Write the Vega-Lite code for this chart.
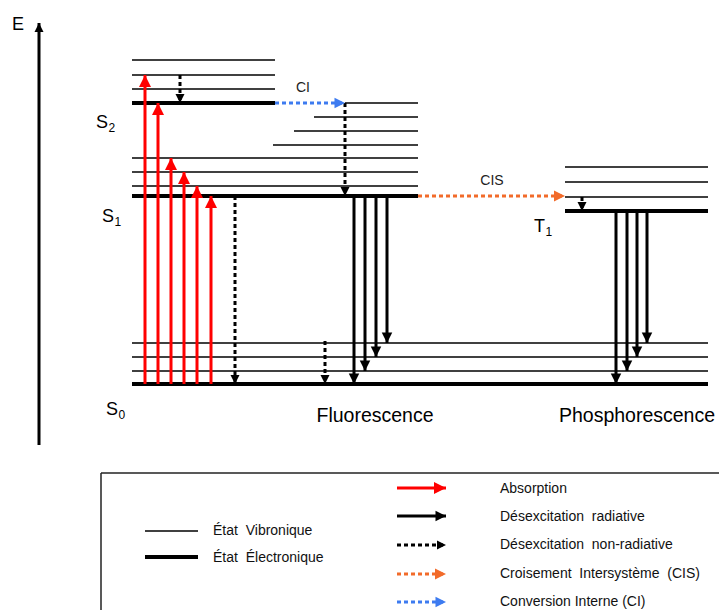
{
  "$schema": "https://vega.github.io/schema/vega-lite/v6.json",
  "width": 720,
  "height": 611,
  "autosize": {"type": "fit", "contains": "padding"},
  "padding": 0,
  "background": "white",
  "view": {"stroke": null},
  "datasets": {
    "cadre": [
      {"x1": 101, "x2": 719, "y1": 473, "y2": 473},
      {"x1": 101, "x2": 101, "y1": 473, "y2": 610}
    ],
    "niveaux": [
      {"groupe": "S2", "etat": "vibronique", "x1": 132, "x2": 275, "y": 60},
      {"groupe": "S2", "etat": "vibronique", "x1": 132, "x2": 275, "y": 75},
      {"groupe": "S2", "etat": "vibronique", "x1": 132, "x2": 275, "y": 89},
      {"groupe": "S2", "etat": "électronique", "x1": 132, "x2": 275, "y": 103},
      {"groupe": "S1", "etat": "vibronique", "x1": 345, "x2": 418, "y": 103},
      {"groupe": "S1", "etat": "vibronique", "x1": 314, "x2": 418, "y": 117},
      {"groupe": "S1", "etat": "vibronique", "x1": 294, "x2": 418, "y": 131},
      {"groupe": "S1", "etat": "vibronique", "x1": 273, "x2": 418, "y": 145},
      {"groupe": "S1", "etat": "vibronique", "x1": 132, "x2": 418, "y": 158},
      {"groupe": "S1", "etat": "vibronique", "x1": 132, "x2": 418, "y": 172},
      {"groupe": "S1", "etat": "vibronique", "x1": 132, "x2": 418, "y": 186},
      {"groupe": "S1", "etat": "électronique", "x1": 132, "x2": 418, "y": 196},
      {"groupe": "S0", "etat": "vibronique", "x1": 132, "x2": 708, "y": 343},
      {"groupe": "S0", "etat": "vibronique", "x1": 132, "x2": 708, "y": 357},
      {"groupe": "S0", "etat": "vibronique", "x1": 132, "x2": 708, "y": 371},
      {"groupe": "S0", "etat": "électronique", "x1": 132, "x2": 708, "y": 384},
      {"groupe": "T1", "etat": "vibronique", "x1": 565, "x2": 708, "y": 167},
      {"groupe": "T1", "etat": "vibronique", "x1": 565, "x2": 708, "y": 182},
      {"groupe": "T1", "etat": "vibronique", "x1": 565, "x2": 708, "y": 197},
      {"groupe": "T1", "etat": "électronique", "x1": 565, "x2": 708, "y": 211},
      {"groupe": "légende", "etat": "vibronique", "x1": 145, "x2": 198, "y": 531},
      {"groupe": "légende", "etat": "électronique", "x1": 145, "x2": 198, "y": 557}
    ],
    "fleches": [
      {"type": "axe", "dir": "haut", "x1": 39, "y1": 445, "x2": 39, "y2": 23},
      {"type": "absorption", "dir": "haut", "x1": 145, "y1": 384, "x2": 145, "y2": 75},
      {"type": "absorption", "dir": "haut", "x1": 158, "y1": 384, "x2": 158, "y2": 103},
      {"type": "absorption", "dir": "haut", "x1": 171, "y1": 384, "x2": 171, "y2": 158},
      {"type": "absorption", "dir": "haut", "x1": 184, "y1": 384, "x2": 184, "y2": 172},
      {"type": "absorption", "dir": "haut", "x1": 197, "y1": 384, "x2": 197, "y2": 186},
      {"type": "absorption", "dir": "haut", "x1": 211, "y1": 384, "x2": 211, "y2": 196},
      {"type": "non-radiative", "dir": "bas", "x1": 180, "y1": 75, "x2": 180, "y2": 103},
      {"type": "non-radiative", "dir": "bas", "x1": 345, "y1": 103, "x2": 345, "y2": 196},
      {"type": "non-radiative", "dir": "bas", "x1": 235, "y1": 196, "x2": 235, "y2": 384},
      {"type": "non-radiative", "dir": "bas", "x1": 325, "y1": 341, "x2": 325, "y2": 384},
      {"type": "non-radiative", "dir": "bas", "x1": 582, "y1": 197, "x2": 582, "y2": 211},
      {"type": "ci", "dir": "droite", "x1": 275, "y1": 103, "x2": 345, "y2": 103},
      {"type": "cis", "dir": "droite", "x1": 418, "y1": 196, "x2": 565, "y2": 196},
      {"type": "radiative", "dir": "bas", "x1": 354, "y1": 196, "x2": 354, "y2": 384},
      {"type": "radiative", "dir": "bas", "x1": 365, "y1": 196, "x2": 365, "y2": 371},
      {"type": "radiative", "dir": "bas", "x1": 376, "y1": 196, "x2": 376, "y2": 357},
      {"type": "radiative", "dir": "bas", "x1": 387, "y1": 196, "x2": 387, "y2": 343},
      {"type": "radiative", "dir": "bas", "x1": 616, "y1": 211, "x2": 616, "y2": 384},
      {"type": "radiative", "dir": "bas", "x1": 627, "y1": 211, "x2": 627, "y2": 371},
      {"type": "radiative", "dir": "bas", "x1": 637, "y1": 211, "x2": 637, "y2": 357},
      {"type": "radiative", "dir": "bas", "x1": 647, "y1": 211, "x2": 647, "y2": 343},
      {"type": "absorption", "dir": "droite", "x1": 397, "y1": 488, "x2": 446, "y2": 488},
      {"type": "radiative", "dir": "droite", "x1": 397, "y1": 516, "x2": 446, "y2": 516},
      {"type": "non-radiative", "dir": "droite", "x1": 397, "y1": 545, "x2": 446, "y2": 545},
      {"type": "cis", "dir": "droite", "x1": 397, "y1": 574, "x2": 446, "y2": 574},
      {"type": "ci", "dir": "droite", "x1": 397, "y1": 602, "x2": 446, "y2": 602}
    ],
    "etats": [
      {"lettre": "E", "indice": "", "x": 24, "y": 30},
      {"lettre": "S", "indice": "2", "x": 108, "y": 128},
      {"lettre": "S", "indice": "1", "x": 114, "y": 222},
      {"lettre": "S", "indice": "0", "x": 118, "y": 415},
      {"lettre": "T", "indice": "1", "x": 545, "y": 232}
    ],
    "processus": [
      {"label": "Fluorescence", "x": 375, "y": 422},
      {"label": "Phosphorescence", "x": 637, "y": 422}
    ],
    "transitions": [
      {"label": "CI", "x": 303, "y": 88},
      {"label": "CIS", "x": 492, "y": 181}
    ],
    "legende": [
      {"label": "État\u00a0 Vibronique", "x": 213, "y": 531},
      {"label": "État\u00a0 Électronique", "x": 213, "y": 558},
      {"label": "Absorption", "x": 500, "y": 489},
      {"label": "Désexcitation\u00a0 radiative", "x": 500, "y": 517},
      {"label": "Désexcitation\u00a0 non-radiative", "x": 500, "y": 545},
      {"label": "Croisement\u00a0 Intersystème\u00a0 (CIS)", "x": 500, "y": 574},
      {"label": "Conversion Interne (CI)", "x": 500, "y": 602}
    ]
  },
  "layer": [
    {
      "data": {"name": "cadre"},
      "mark": {"type": "rule", "color": "#222222", "strokeWidth": 1.5},
      "encoding": {
        "x": {"field": "x1", "type": "quantitative", "scale": {"domain": [0, 720], "nice": false, "zero": false}, "axis": null},
        "x2": {"field": "x2"},
        "y": {"field": "y1", "type": "quantitative", "scale": {"domain": [0, 611], "reverse": true, "nice": false, "zero": false}, "axis": null},
        "y2": {"field": "y2"}
      }
    },
    {
      "data": {"name": "niveaux"},
      "mark": {"type": "rule", "color": "black"},
      "encoding": {
        "x": {"field": "x1", "type": "quantitative", "scale": {"domain": [0, 720], "nice": false, "zero": false}, "axis": null},
        "x2": {"field": "x2"},
        "y": {"field": "y", "type": "quantitative", "scale": {"domain": [0, 611], "reverse": true, "nice": false, "zero": false}, "axis": null},
        "strokeWidth": {"field": "etat", "type": "nominal", "scale": {"type": "ordinal", "domain": ["vibronique", "électronique"], "range": [1.6, 3.8]}, "legend": null}
      }
    },
    {
      "data": {"name": "fleches"},
      "mark": {"type": "rule", "strokeWidth": 3},
      "encoding": {
        "x": {"field": "x1", "type": "quantitative", "scale": {"domain": [0, 720], "nice": false, "zero": false}, "axis": null},
        "x2": {"field": "x2"},
        "y": {"field": "y1", "type": "quantitative", "scale": {"domain": [0, 611], "reverse": true, "nice": false, "zero": false}, "axis": null},
        "y2": {"field": "y2"},
        "color": {"field": "type", "type": "nominal", "scale": {"domain": ["absorption", "radiative", "non-radiative", "cis", "ci", "axe"], "range": ["#FF0000", "#000000", "#000000", "#F26B2A", "#3D7BF0", "#000000"]}, "legend": null},
        "strokeDash": {"field": "type", "type": "nominal", "scale": {"domain": ["absorption", "radiative", "non-radiative", "cis", "ci", "axe"], "range": [[1, 0], [1, 0], [4, 3], [4, 3], [4, 3], [1, 0]]}, "legend": null}
      }
    },
    {
      "data": {"name": "fleches"},
      "mark": {"type": "point", "filled": true, "opacity": 1, "strokeWidth": 0},
      "encoding": {
        "x": {"field": "x2", "type": "quantitative", "scale": {"domain": [0, 720], "nice": false, "zero": false}, "axis": null},
        "y": {"field": "y2", "type": "quantitative", "scale": {"domain": [0, 611], "reverse": true, "nice": false, "zero": false}, "axis": null},
        "shape": {"field": "dir", "type": "nominal", "scale": {"domain": ["haut", "droite", "bas"], "range": ["M0,0L-1,2L1,2Z", "M0,0L-2,-1L-2,1Z", "M0,0L-1,-2L1,-2Z"]}, "legend": null},
        "size": {"field": "type", "type": "nominal", "scale": {"type": "ordinal", "domain": ["absorption", "radiative", "non-radiative", "cis", "ci", "axe"], "range": [144, 110, 81, 121, 110, 81]}, "legend": null},
        "color": {"field": "type", "type": "nominal", "scale": {"domain": ["absorption", "radiative", "non-radiative", "cis", "ci", "axe"], "range": ["#FF0000", "#000000", "#000000", "#F26B2A", "#3D7BF0", "#000000"]}, "legend": null}
      }
    },
    {
      "data": {"name": "etats"},
      "mark": {"type": "text", "align": "right", "baseline": "alphabetic", "fontSize": 18, "font": "Liberation Sans", "color": "black"},
      "encoding": {
        "x": {"field": "x", "type": "quantitative", "scale": {"domain": [0, 720], "nice": false, "zero": false}, "axis": null},
        "y": {"field": "y", "type": "quantitative", "scale": {"domain": [0, 611], "reverse": true, "nice": false, "zero": false}, "axis": null},
        "text": {"field": "lettre"}
      }
    },
    {
      "data": {"name": "etats"},
      "mark": {"type": "text", "align": "left", "baseline": "alphabetic", "fontSize": 12, "dx": 0.5, "dy": 4, "font": "Liberation Sans", "color": "black"},
      "encoding": {
        "x": {"field": "x", "type": "quantitative", "scale": {"domain": [0, 720], "nice": false, "zero": false}, "axis": null},
        "y": {"field": "y", "type": "quantitative", "scale": {"domain": [0, 611], "reverse": true, "nice": false, "zero": false}, "axis": null},
        "text": {"field": "indice"}
      }
    },
    {
      "data": {"name": "processus"},
      "mark": {"type": "text", "align": "center", "baseline": "alphabetic", "fontSize": 19.5, "font": "Liberation Sans", "color": "black"},
      "encoding": {
        "x": {"field": "x", "type": "quantitative", "scale": {"domain": [0, 720], "nice": false, "zero": false}, "axis": null},
        "y": {"field": "y", "type": "quantitative", "scale": {"domain": [0, 611], "reverse": true, "nice": false, "zero": false}, "axis": null},
        "text": {"field": "label"}
      }
    },
    {
      "data": {"name": "transitions"},
      "mark": {"type": "text", "align": "center", "baseline": "middle", "fontSize": 14, "font": "Liberation Sans", "color": "#222222"},
      "encoding": {
        "x": {"field": "x", "type": "quantitative", "scale": {"domain": [0, 720], "nice": false, "zero": false}, "axis": null},
        "y": {"field": "y", "type": "quantitative", "scale": {"domain": [0, 611], "reverse": true, "nice": false, "zero": false}, "axis": null},
        "text": {"field": "label"}
      }
    },
    {
      "data": {"name": "legende"},
      "mark": {"type": "text", "align": "left", "baseline": "middle", "fontSize": 14, "font": "Liberation Sans", "color": "#111111"},
      "encoding": {
        "x": {"field": "x", "type": "quantitative", "scale": {"domain": [0, 720], "nice": false, "zero": false}, "axis": null},
        "y": {"field": "y", "type": "quantitative", "scale": {"domain": [0, 611], "reverse": true, "nice": false, "zero": false}, "axis": null},
        "text": {"field": "label"}
      }
    }
  ]
}
